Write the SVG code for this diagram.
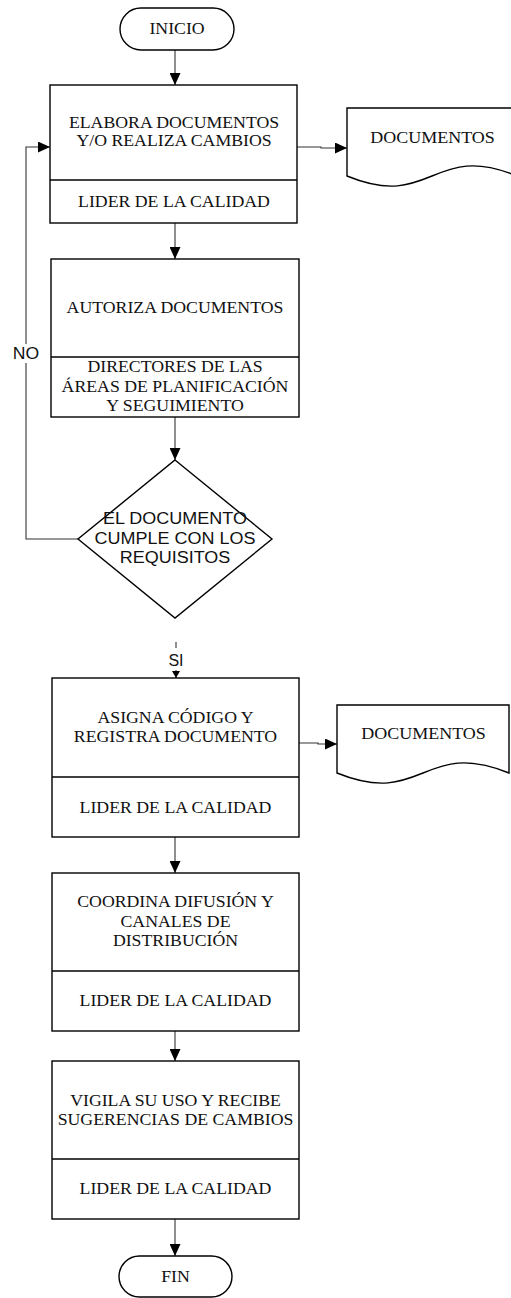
<svg xmlns="http://www.w3.org/2000/svg" width="511" height="1298" viewBox="0 0 511 1298">
<style>
.shape{fill:#fff;stroke:#000;stroke-width:1.4}
.div{stroke:#000;stroke-width:1.4;fill:none}
.conn{fill:none;stroke:#333;stroke-width:1.1}
.t{font-family:"Liberation Serif","Times New Roman",serif;font-size:16px;fill:#111;text-anchor:middle}
.s{font-family:"Liberation Sans",Arial,sans-serif;font-size:17px;fill:#111;text-anchor:middle}
.lbl{font-family:"Liberation Sans",Arial,sans-serif;font-size:16px;fill:#111;text-anchor:middle}
</style>
<defs>
<marker id="arr" markerUnits="userSpaceOnUse" markerWidth="12" markerHeight="11" refX="12" refY="5.5" orient="auto">
<path d="M0,0 L12,5.5 L0,11 z" fill="#000"/>
</marker>
<marker id="arrS" markerUnits="userSpaceOnUse" markerWidth="7" markerHeight="8" refX="7" refY="4" orient="auto">
<path d="M0,0 L7,4 L0,8 z" fill="#000"/>
</marker>
</defs>

<g id="connectors">
<path class="conn" d="M175,50 V85" marker-end="url(#arr)"/>
<path class="conn" d="M175,223 V259" marker-end="url(#arr)"/>
<path class="conn" d="M175,417 V460" marker-end="url(#arr)"/>
<path class="conn" d="M297,147 H321 V148 H347" marker-end="url(#arr)"/>
<path class="conn" d="M78,539 H26 V147 H50" marker-end="url(#arr)"/>
<path class="conn" d="M176,642 V678" marker-end="url(#arrS)"/>
<path class="conn" d="M299,743 H318 V744 H337" marker-end="url(#arr)"/>
<path class="conn" d="M175,837 V873" marker-end="url(#arr)"/>
<path class="conn" d="M175,1031 V1061" marker-end="url(#arr)"/>
<path class="conn" d="M175,1219 V1256" marker-end="url(#arr)"/>
<g id="label-no">
<rect x="10" y="344" width="32" height="19" fill="#fff"/>
<text class="lbl" transform="translate(26 0) scale(1.1 1)" x="0" y="359">NO</text>
</g>
<g id="label-si">
<rect x="164" y="648" width="24" height="22" fill="#fff"/>
<text class="lbl" x="176" y="666">SI</text>
</g>
</g>

<g id="inicio">
<rect class="shape" x="120" y="8" width="114" height="42" rx="21"/>
<text class="t" transform="translate(177 0) scale(1.11 1)" x="0" y="34">INICIO</text>
</g>

<g id="elabora">
<rect class="shape" x="50" y="85" width="247" height="138"/>
<line class="div" x1="50" y1="180" x2="297" y2="180"/>
<text class="t" transform="translate(174 0) scale(1.11 1)"><tspan x="0" y="128">ELABORA DOCUMENTOS</tspan><tspan x="0" y="146">Y/O REALIZA CAMBIOS</tspan><tspan x="0" y="207">LIDER DE LA CALIDAD</tspan></text>
</g>

<g id="doc1">
<path class="shape" d="M347,176 V108 H517 V176 C432,141 432,211 347,176 Z"/>
<text class="t" transform="translate(432.5 0) scale(1.125 1)" x="0" y="143">DOCUMENTOS</text>
</g>

<g id="autoriza">
<rect class="shape" x="51" y="259" width="248" height="158"/>
<line class="div" x1="51" y1="357" x2="299" y2="357"/>
<text class="t" transform="translate(175 0) scale(1.11 1)"><tspan x="0" y="313">AUTORIZA DOCUMENTOS</tspan><tspan x="0" y="372">DIRECTORES DE LAS</tspan><tspan x="0" y="392">ÁREAS DE PLANIFICACIÓN</tspan><tspan x="0" y="411">Y SEGUIMIENTO</tspan></text>
</g>

<g id="decision">
<polygon class="shape" points="175,460 272,539 175,618 78,539"/>
<text class="s" transform="translate(175 0) scale(1.06 1)"><tspan x="0" y="524">EL DOCUMENTO</tspan><tspan x="0" y="544">CUMPLE CON LOS</tspan><tspan x="0" y="563">REQUISITOS</tspan></text>
</g>

<g id="asigna">
<rect class="shape" x="52" y="678" width="247" height="159"/>
<line class="div" x1="52" y1="777" x2="299" y2="777"/>
<text class="t" transform="translate(175.5 0) scale(1.11 1)"><tspan x="0" y="723">ASIGNA CÓDIGO Y</tspan><tspan x="0" y="742">REGISTRA DOCUMENTO</tspan><tspan x="0" y="813">LIDER DE LA CALIDAD</tspan></text>
</g>

<g id="doc2">
<path class="shape" d="M337,773 V705 H509 V773 C423,738 423,808 337,773 Z"/>
<text class="t" transform="translate(423.5 0) scale(1.125 1)" x="0" y="739">DOCUMENTOS</text>
</g>

<g id="coordina">
<rect class="shape" x="52" y="873" width="247" height="158"/>
<line class="div" x1="52" y1="971" x2="299" y2="971"/>
<text class="t" transform="translate(175.5 0) scale(1.11 1)"><tspan x="0" y="907">COORDINA DIFUSIÓN Y</tspan><tspan x="0" y="927">CANALES DE</tspan><tspan x="0" y="946">DISTRIBUCIÓN</tspan><tspan x="0" y="1006">LIDER DE LA CALIDAD</tspan></text>
</g>

<g id="vigila">
<rect class="shape" x="52" y="1061" width="247" height="158"/>
<line class="div" x1="52" y1="1159" x2="299" y2="1159"/>
<text class="t" transform="translate(175.5 0) scale(1.11 1)"><tspan x="0" y="1106">VIGILA SU USO Y RECIBE</tspan><tspan x="0" y="1125">SUGERENCIAS DE CAMBIOS</tspan><tspan x="0" y="1194">LIDER DE LA CALIDAD</tspan></text>
</g>

<g id="fin">
<rect class="shape" x="119" y="1256" width="113" height="41" rx="20.5"/>
<text class="t" transform="translate(175.5 0) scale(1.11 1)" x="0" y="1282">FIN</text>
</g>
</svg>
